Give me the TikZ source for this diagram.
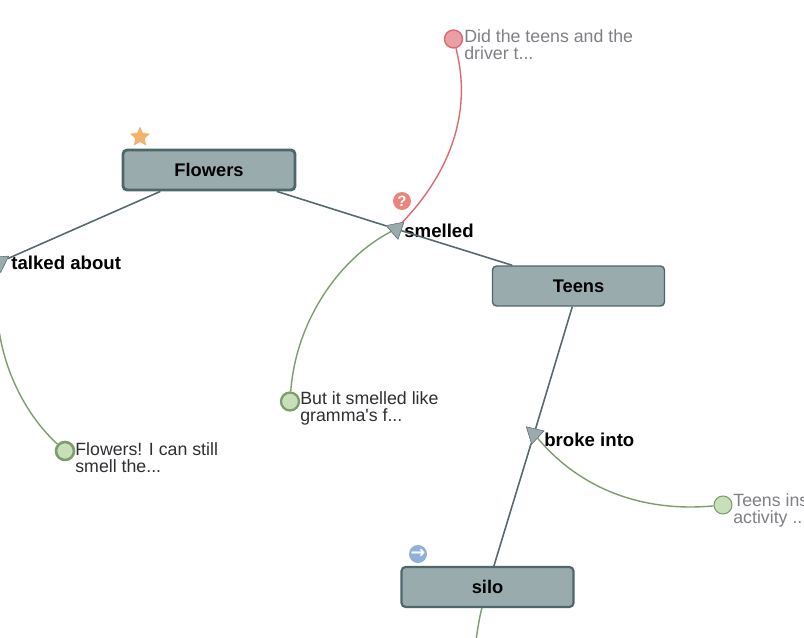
\documentclass[tikz,border=0pt]{standalone}
\usepackage{fontspec}
\setmainfont{Liberation Sans}
\newfontfamily\glyphfont{DejaVu Sans}
\usetikzlibrary{shapes.geometric}
\definecolor{boxfill}{HTML}{9AABAD}
\definecolor{boxline}{HTML}{4F666C}
\definecolor{linkline}{HTML}{55696F}
\definecolor{ansgreen}{HTML}{7F9C6F}
\definecolor{ansfill}{HTML}{C9DFB9}
\definecolor{askred}{HTML}{DB6A72}
\definecolor{askfill}{HTML}{E8A0A5}
\definecolor{greytext}{HTML}{7F7F85}
\definecolor{darktext}{HTML}{2E2E33}
\definecolor{staricon}{HTML}{F4B26E}
\definecolor{askicon}{HTML}{E8857C}
\definecolor{nexticon}{HTML}{8FB0D8}
\tikzset{
  conceptbox/.style={rectangle,rounded corners=0.08cm,draw=boxline,fill=boxfill,
    minimum width=3.44cm,minimum height=0.8cm,inner sep=0,font=\fontsize{10.4}{10.4}\selectfont\bfseries},
  linktip/.style={regular polygon,regular polygon sides=3,draw=linkline,line width=0.3pt,fill=boxfill,
    minimum size=0.42cm,inner sep=0},
  linklabel/.style={anchor=west,inner sep=0,font=\fontsize{10.6}{10.6}\selectfont\bfseries},
  notetext/.style={anchor=west,inner sep=0,align=left,font=\fontsize{10.1}{9.6}\selectfont},
  notedot/.style={circle,minimum size=0.36cm,inner sep=0},
  badge/.style={circle,minimum size=0.36cm,inner sep=0,text=white},
}
\begin{document}
\begin{tikzpicture}[x=0.02cm,y=-0.02cm]

        \clip (0,0) rectangle (804,638);

        \begin{scope}[every node/.style={conceptbox}]
          \node[line width=1.6pt] (flowers) at (209,170) {Flowers};
          \node[line width=0.8pt] (teens)   at (578.5,286) {Teens};
          \node[line width=1.2pt] (silo)    at (487.5,587) {silo};
        \end{scope}

        \begin{scope}[every node/.style={linktip}]
          \node[shape border rotate=-56] (talked)  at (0,262) {};
          \node[shape border rotate=-49] (smelled) at (396,229) {};
          \node[shape border rotate=-73] (broke)   at (534,434) {};
        \end{scope}

        \begin{scope}[every node/.style={linklabel}]
          \node (talkedlabel)  at (11,262.5) {talked about};
          \node (smelledlabel) at (404,230.5) {smelled};
          \node (brokelabel)   at (544,440) {broke into};
        \end{scope}

        \begin{scope}[every node/.style={notedot}]
          \node[draw=askred,fill=askfill,line width=0.8pt] (didnote) at (453.5,39) {};
          \node[draw=ansgreen,fill=ansfill,line width=0.6pt] (insnote) at (723,505) {};
          \node[draw=ansgreen,fill=ansfill,line width=1.3pt] (butnote) at (290,401.5) {};
          \node[draw=ansgreen,fill=ansfill,line width=1.5pt] (flonote) at (65,451) {};
        \end{scope}

        \begin{scope}[every node/.style={notetext}]
          \node[text=greytext] (didtext) at (464,45) {Did the teens and the\\driver t...};
          \node[text=greytext] (instext) at (733,510.5) {Teens ins\\activity ..};
          \node[text=darktext] (buttext) at (300,408) {But it smelled like\\gramma\textquotesingle s f...};
          \node[text=darktext] (flotext) at (75,457.5) {Flowers! I can still\\smell the...};
        \end{scope}

        \node[star,star points=5,star point ratio=2.1,fill=staricon,minimum size=0.42cm,inner sep=0] (starmark) at (140,137) {};
        \node[badge,fill=askicon,font=\fontsize{8.5}{8.5}\selectfont\bfseries] (askmark) at (402,201) {?};
        \node[badge,fill=nexticon,font=\fontsize{10}{10}\selectfont\glyphfont\bfseries] (nextmark) at (418,554) {→};

        \coordinate (silotail) at (475,650);

        \begin{scope}[every edge/.style={draw=linkline,line width=0.9pt}]
          \path (flowers) edge (talked);
          \path (flowers) edge (smelled);
          \path (smelled) edge (teens);
          \path (teens)   edge (broke);
          \path (broke)   edge (silo);
        \end{scope}

        \draw[askred,line width=0.8pt] (didnote) .. controls (472,110) and (452,170) .. (smelled);
        \draw[ansgreen,line width=0.8pt] (butnote) .. controls (296,320) and (340,258) .. (smelled);
        \draw[ansgreen,line width=0.8pt] (insnote) .. controls (660,511) and (590,500) .. (broke);
        \draw[ansgreen,line width=0.8pt] (flonote) .. controls (20,410) and (-12,345) .. (talked);
        \draw[ansgreen,line width=0.8pt] (silo) .. controls (480,615) and (477,630) .. (silotail);

      \end{tikzpicture}
\end{document}
